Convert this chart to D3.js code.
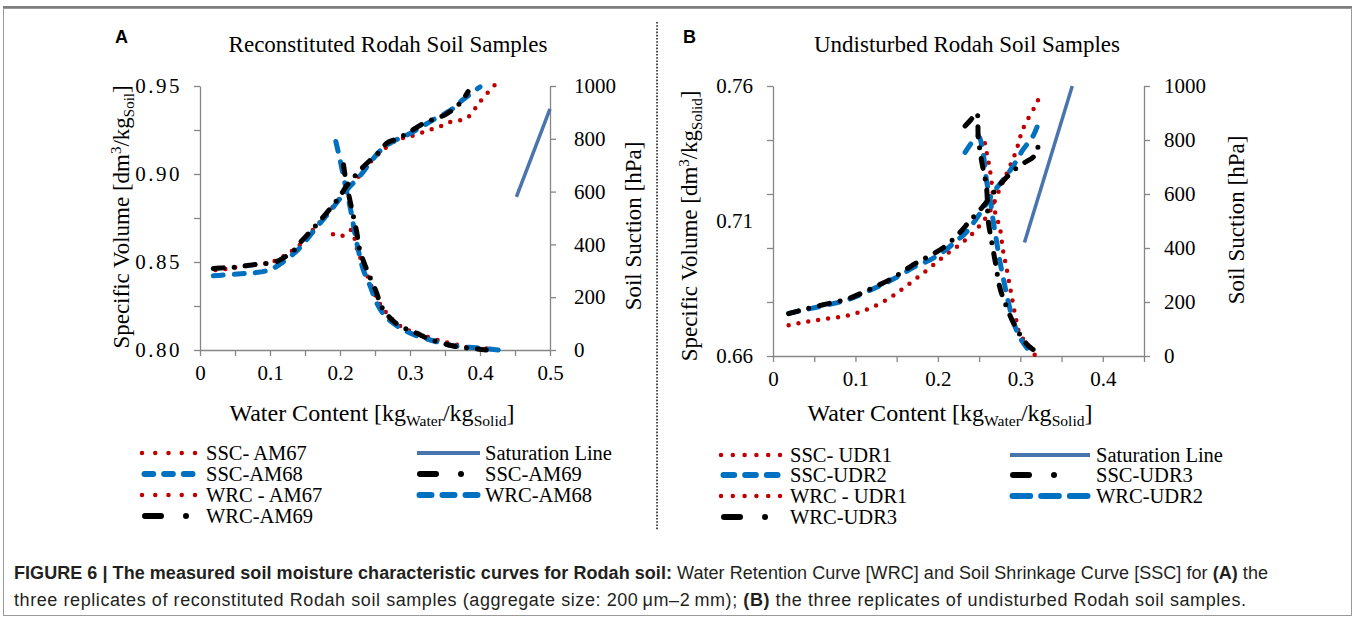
<!DOCTYPE html>
<html>
<head>
<meta charset="utf-8">
<script src="https://cdn.jsdelivr.net/npm/d3@7/dist/d3.min.js"></script>
<style>
  body { margin: 0; background: #fff; }
  svg { display: block; }
</style>
</head>
<body>
<div id="chart"></div>
<script>
// ---- Panel A: reconstituted samples [water content, specific volume] / [water content, suction]
var sscAM67 = [[0.022,0.8455],[0.035,0.846],[0.05,0.8468],[0.07,0.848],[0.09,0.849],[0.1,0.8495],[0.114,0.852],[0.126,0.855],[0.138,0.858],[0.15,0.863],[0.165,0.87],[0.181,0.877],[0.19,0.8815],[0.202,0.8874],[0.215,0.8935],[0.23,0.9],[0.245,0.9075],[0.26,0.913],[0.275,0.918],[0.29,0.9205],[0.3,0.9213],[0.314,0.9232],[0.328,0.925],[0.343,0.927],[0.357,0.9295],[0.381,0.9317],[0.395,0.9383],[0.404,0.943],[0.421,0.9505]];
var sscAM68 = [[0.019,0.8422],[0.03,0.8425],[0.048,0.843],[0.065,0.8435],[0.08,0.844],[0.095,0.845],[0.105,0.8465],[0.115,0.849],[0.13,0.8535],[0.14,0.857],[0.152,0.8625],[0.165,0.869],[0.18,0.876],[0.195,0.8835],[0.212,0.892],[0.228,0.8987],[0.245,0.9075],[0.259,0.9138],[0.276,0.9185],[0.295,0.922],[0.309,0.925],[0.333,0.9308],[0.357,0.936],[0.375,0.942],[0.395,0.948],[0.4,0.9495]];
var sscAM69 = [[0.019,0.8463],[0.035,0.8467],[0.052,0.8472],[0.081,0.8487],[0.105,0.8497],[0.12,0.8525],[0.135,0.857],[0.143,0.861],[0.157,0.867],[0.171,0.8732],[0.188,0.8813],[0.2,0.8875],[0.209,0.893],[0.221,0.8987],[0.233,0.904],[0.245,0.9085],[0.256,0.9125],[0.267,0.9176],[0.278,0.9195],[0.288,0.9213],[0.3,0.924],[0.316,0.928],[0.333,0.931],[0.35,0.9336],[0.364,0.9375],[0.375,0.942],[0.383,0.9468]];
var wrcAM67 = [[0.19,438],[0.202,431],[0.216,454],[0.224,385],[0.236,303],[0.25,210],[0.264,148],[0.288,87],[0.314,60],[0.343,35],[0.364,22],[0.378,12],[0.407,6],[0.419,2]];
var wrcAM68 = [[0.194,790],[0.2,721],[0.209,607],[0.216,521],[0.221,445],[0.226,381],[0.233,306],[0.243,243],[0.252,181],[0.264,130],[0.281,92],[0.304,60],[0.333,35],[0.362,16],[0.395,8],[0.426,0]];
var wrcAM69 = [[0.205,702],[0.209,633],[0.216,545],[0.224,445],[0.228,381],[0.238,306],[0.252,219],[0.259,166],[0.28,101],[0.309,64],[0.328,41],[0.362,15],[0.395,4],[0.409,0]];
var satLineA = [[0.452,0.887],[0.5,0.937]];

// ---- Panel B: undisturbed samples
var sscUDR1 = [[0.019,0.6714],[0.04,0.6726],[0.065,0.6738],[0.091,0.675],[0.116,0.6775],[0.14,0.6812],[0.162,0.686],[0.186,0.6916],[0.208,0.6971],[0.227,0.7014],[0.239,0.7045],[0.25,0.708],[0.263,0.7135],[0.275,0.7218],[0.285,0.7286],[0.295,0.736],[0.303,0.744],[0.317,0.752],[0.324,0.7563]];
var sscUDR2 = [[0.019,0.6758],[0.037,0.677],[0.061,0.6786],[0.089,0.6807],[0.118,0.6844],[0.146,0.6885],[0.174,0.6934],[0.19,0.6955],[0.206,0.6985],[0.222,0.7025],[0.235,0.706],[0.247,0.711],[0.259,0.7165],[0.267,0.7205],[0.279,0.7252],[0.291,0.7302],[0.303,0.7363],[0.316,0.7418],[0.324,0.748]];
var sscUDR3 = [[0.019,0.6757],[0.037,0.6772],[0.061,0.679],[0.089,0.681],[0.118,0.6848],[0.146,0.689],[0.168,0.6934],[0.186,0.6965],[0.206,0.7],[0.225,0.7052],[0.239,0.7101],[0.255,0.7155],[0.27,0.7215],[0.283,0.7261],[0.299,0.7305],[0.317,0.7341],[0.323,0.7396]];
var wrcUDR1 = [[0.257,788],[0.26,740],[0.263,692],[0.266,620],[0.268,551],[0.271,515],[0.275,477],[0.279,391],[0.283,330],[0.289,230],[0.295,133],[0.299,84],[0.307,47],[0.313,16],[0.318,3]];
var wrcUDR2 = [[0.233,754],[0.241,790],[0.249,815],[0.255,748],[0.259,649],[0.263,588],[0.267,502],[0.271,428],[0.275,354],[0.279,293],[0.285,206],[0.291,133],[0.299,71],[0.307,34],[0.315,0]];
var wrcUDR3 = [[0.233,852],[0.24,875],[0.247,901],[0.249,809],[0.253,723],[0.259,624],[0.261,502],[0.265,428],[0.27,341],[0.275,255],[0.281,200],[0.293,114],[0.307,47],[0.315,25],[0.322,10]];
var satLineB = [[0.305,0.702],[0.363,0.76]];

// ---- tick values
var suctionTicks = [0, 200, 400, 600, 800, 1000];
var xTicksA = d3.range(11).map(function (i) { return i * 0.05; });
var xLabelsA = [0, 0.1, 0.2, 0.3, 0.4, 0.5];
var xTicksB = d3.range(10).map(function (i) { return i * 0.05; });
var xLabelsB = [0, 0.1, 0.2, 0.3, 0.4];
var vTicksA = d3.range(7).map(function (i) { return 0.80 + i * 0.025; });
var vLabelsA = [0.80, 0.85, 0.90, 0.95];
var vTicksB = d3.range(6).map(function (i) { return 0.66 + i * 0.02; });
var vLabelsB = [0.66, 0.71, 0.76];

var serif = '"Liberation Serif", "Times New Roman", serif';
var sans = '"Liberation Sans", Arial, sans-serif';

// Line styles
var styles = {
  red:   { stroke: '#c00000', width: 4.5, dash: '0 10', cap: 'round' },
  blue:  { stroke: '#0070c0', width: 5, dash: '10 11', cap: 'round' },
  black: { stroke: '#000', width: 5, dash: '10 11 0 11', cap: 'round' },
  sat:   { stroke: '#4a74ad', width: 3.5, dash: null, cap: 'butt' }
};

var svg = d3.select('#chart')
            .append('svg')
            .attr('width', 1355)
            .attr('height', 625);

// Figure frame
svg.append('rect')
   .attr('x', 3.5).attr('y', 8.5)
   .attr('width', 1348).attr('height', 607)
   .attr('fill', 'none')
   .attr('stroke', '#9a9a9a');
svg.append('line')
   .attr('x1', 3).attr('x2', 1352).attr('y1', 7).attr('y2', 7)
   .attr('stroke', '#7f7f7f').attr('stroke-width', 2);

// Dotted separator between panels
svg.append('line')
   .attr('x1', 657).attr('x2', 657).attr('y1', 22).attr('y2', 530)
   .attr('stroke', '#222').attr('stroke-width', 1.6)
   .attr('stroke-dasharray', '1.6 1.6');

function applyStyle(sel, s) {
  sel.attr('fill', 'none')
     .attr('stroke', s.stroke)
     .attr('stroke-width', s.width)
     .attr('stroke-linecap', s.cap)
     .attr('stroke-linejoin', 'round');
  if (s.dash) sel.attr('stroke-dasharray', s.dash);
}

// Text with sub/superscript parts
function richText(sel, parts, size) {
  parts.forEach(function (p) {
    var t = sel.append('tspan').text(p.t);
    if (p.sub) t.attr('font-size', size * 0.65).attr('dy', size * 0.22);
    if (p.sup) t.attr('font-size', size * 0.65).attr('dy', -size * 0.36);
    if (p.back) t.attr('dy', p.back * size);
  });
}

function sameVal(list, d) {
  return list.some(function (v) { return Math.abs(v - d) < 1e-9; });
}

function drawPanel(p) {
  var g = svg.append('g').attr('class', 'panel');
  var yBase = p.yL.range()[0];
  var xl = p.x.range()[0], xr = p.x.range()[1];

  // Bottom axis
  g.append('g')
   .attr('transform', 'translate(0,' + yBase + ')')
   .call(d3.axisBottom(p.x)
           .tickValues(p.xTicks)
           .tickSize(6).tickSizeOuter(0).tickPadding(9)
           .tickFormat(function (d) {
             if (!sameVal(p.xLabels, d)) return '';
             return d === 0 ? '0' : d3.format('.1f')(d);
           }));

  // Left axis: tick marks, then labels
  g.append('g')
   .attr('transform', 'translate(' + xl + ',0)')
   .call(d3.axisLeft(p.yL).tickValues(p.vTicks).tickSize(6).tickSizeOuter(0).tickFormat(''));
  g.append('g')
   .attr('class', 'vlabels')
   .attr('transform', 'translate(' + xl + ',0)')
   .call(d3.axisLeft(p.yL).tickValues(p.vLabels).tickSize(0).tickPadding(p.leftPad).tickFormat(d3.format('.2f')))
   .call(function (a) { a.select('.domain').remove(); });

  // Right axis
  g.append('g')
   .attr('transform', 'translate(' + xr + ',0)')
   .call(d3.axisRight(p.yR).tickValues(suctionTicks).tickSize(6).tickSizeOuter(0)
           .tickPadding(p.rightPad).tickFormat(d3.format('d')));

  g.selectAll('.domain, .tick line')
   .attr('stroke', '#868686')
   .attr('stroke-width', 1.3);
  g.selectAll('.tick text')
   .attr('font-family', serif)
   .attr('font-size', 21)
   .attr('fill', '#000');
  g.selectAll('.vlabels .tick text').attr('letter-spacing', p.leftSpacing);

  // Series
  p.series.forEach(function (s) {
    var y = s.axis === 'right' ? p.yR : p.yL;
    var line = d3.line()
                 .x(function (d) { return p.x(d[0]); })
                 .y(function (d) { return y(d[1]); })
                 .curve(d3.curveCatmullRom.alpha(0.5));
    g.append('path')
     .datum(s.data)
     .attr('d', line)
     .call(applyStyle, styles[s.style]);
  });

  // Panel letter and title
  g.append('text')
   .attr('x', p.letterX).attr('y', 43)
   .attr('font-family', sans).attr('font-weight', 'bold').attr('font-size', 18)
   .text(p.letter);
  g.append('text')
   .attr('x', p.titleX).attr('y', 52)
   .attr('text-anchor', 'middle')
   .attr('font-family', serif).attr('font-size', 23)
   .text(p.title);

  // Axis titles
  var fx = 24;
  var xt = g.append('text')
            .attr('x', p.xTitleX).attr('y', 421)
            .attr('text-anchor', 'middle')
            .attr('font-family', serif).attr('font-size', fx);
  richText(xt, [{ t: 'Water Content [kg' }, { t: 'Water', sub: true }, { t: '/kg', back: -0.22 }, { t: 'Solid', sub: true }, { t: ']', back: -0.22 }], fx);

  var fs = 23;
  var lt = g.append('text')
            .attr('transform', 'translate(' + p.leftTitleX + ',' + p.leftTitleY + ') rotate(-90)')
            .attr('text-anchor', 'middle')
            .attr('font-family', serif).attr('font-size', fs);
  richText(lt, [{ t: 'Specific Volume [dm' }, { t: '3', sup: true }, { t: '/kg', back: 0.36 }, { t: p.volUnit, sub: true }, { t: ']', back: -0.22 }], fs);

  g.append('text')
   .attr('transform', 'translate(' + p.rightTitleX + ',' + p.rightTitleY + ') rotate(-90)')
   .attr('text-anchor', 'middle')
   .attr('font-family', serif).attr('font-size', fs)
   .text('Soil Suction [hPa]');

  // Legend
  p.legend.forEach(function (e) {
    var sym = p.legendSym[e.col];
    var y = p.legendRows[e.row];
    var s = styles[e.style];
    var a = sym[0], b = sym[1];
    if (e.style === 'red') {
      g.append('line')
       .attr('x1', a).attr('x2', b + 0.1).attr('y1', y).attr('y2', y)
       .call(applyStyle, s)
       .attr('stroke-dasharray', '0 ' + ((b - a) / (p.legendDots - 1)));
    } else if (e.style === 'blue') {
      var len = b - a - 5;
      var dash = (len - 22) / 3;
      g.append('line')
       .attr('x1', a + 2.5).attr('x2', b - 2.5).attr('y1', y).attr('y2', y)
       .call(applyStyle, s)
       .attr('stroke-width', 6)
       .attr('stroke-dasharray', dash + ' 11');
    } else if (e.style === 'black') {
      g.append('line')
       .attr('x1', a + 3).attr('x2', a + 19).attr('y1', y).attr('y2', y)
       .call(applyStyle, s)
       .attr('stroke-width', 6)
       .attr('stroke-dasharray', null);
      g.append('circle')
       .attr('cx', a + 44).attr('cy', y).attr('r', 3)
       .attr('fill', '#000');
    } else {
      g.append('line')
       .attr('x1', a).attr('x2', b).attr('y1', y).attr('y2', y)
       .call(applyStyle, s)
       .attr('stroke-width', 4);
    }
    g.append('text')
     .attr('x', p.legendText[e.col]).attr('y', y).attr('dy', '0.34em')
     .attr('font-family', serif).attr('font-size', 20.5)
     .text(e.label);
  });
}

drawPanel({
  letter: 'A', letterX: 115,
  title: 'Reconstituted Rodah Soil Samples', titleX: 388,
  x: d3.scaleLinear([0, 0.5], [200, 550]),
  yL: d3.scaleLinear([0.80, 0.95], [350, 86]),
  yR: d3.scaleLinear([0, 1000], [350, 86]),
  xTicks: xTicksA, xLabels: xLabelsA,
  vTicks: vTicksA, vLabels: vLabelsA,
  leftPad: 18, rightPad: 18, leftSpacing: 2.5,
  xTitleX: 372,
  leftTitleX: 129, leftTitleY: 217, volUnit: 'Soil',
  rightTitleX: 641, rightTitleY: 226,
  series: [
    { data: sscAM67, style: 'red' },
    { data: wrcAM67, style: 'red', axis: 'right' },
    { data: sscAM68, style: 'blue' },
    { data: wrcAM68, style: 'blue', axis: 'right' },
    { data: sscAM69, style: 'black' },
    { data: wrcAM69, style: 'black', axis: 'right' },
    { data: satLineA, style: 'sat' }
  ],
  legendSym: [[142, 195], [417, 480]],
  legendText: [206, 485],
  legendRows: [453, 474, 495, 516],
  legendDots: 5,
  legend: [
    { label: 'SSC- AM67', style: 'red', col: 0, row: 0 },
    { label: 'SSC-AM68', style: 'blue', col: 0, row: 1 },
    { label: 'WRC - AM67', style: 'red', col: 0, row: 2 },
    { label: 'WRC-AM69', style: 'black', col: 0, row: 3 },
    { label: 'Saturation Line', style: 'sat', col: 1, row: 0 },
    { label: 'SSC-AM69', style: 'black', col: 1, row: 1 },
    { label: 'WRC-AM68', style: 'blue', col: 1, row: 2 }
  ]
});

drawPanel({
  letter: 'B', letterX: 683,
  title: 'Undisturbed Rodah Soil Samples', titleX: 967,
  x: d3.scaleLinear([0, 0.45], [773, 1144]),
  yL: d3.scaleLinear([0.66, 0.76], [356, 86]),
  yR: d3.scaleLinear([0, 1000], [356, 86]),
  xTicks: xTicksB, xLabels: xLabelsB,
  vTicks: vTicksB, vLabels: vLabelsB,
  leftPad: 20, rightPad: 14, leftSpacing: 0,
  xTitleX: 950,
  leftTitleX: 697, leftTitleY: 226, volUnit: 'Solid',
  rightTitleX: 1244, rightTitleY: 220,
  series: [
    { data: sscUDR1, style: 'red' },
    { data: wrcUDR1, style: 'red', axis: 'right' },
    { data: sscUDR2, style: 'blue' },
    { data: wrcUDR2, style: 'blue', axis: 'right' },
    { data: sscUDR3, style: 'black' },
    { data: wrcUDR3, style: 'black', axis: 'right' },
    { data: satLineB, style: 'sat' }
  ],
  legendSym: [[721, 780], [1010, 1090]],
  legendText: [790, 1096],
  legendRows: [455, 475, 496, 517],
  legendDots: 6,
  legend: [
    { label: 'SSC- UDR1', style: 'red', col: 0, row: 0 },
    { label: 'SSC-UDR2', style: 'blue', col: 0, row: 1 },
    { label: 'WRC - UDR1', style: 'red', col: 0, row: 2 },
    { label: 'WRC-UDR3', style: 'black', col: 0, row: 3 },
    { label: 'Saturation Line', style: 'sat', col: 1, row: 0 },
    { label: 'SSC-UDR3', style: 'black', col: 1, row: 1 },
    { label: 'WRC-UDR2', style: 'blue', col: 1, row: 2 }
  ]
});

// Caption
var cap1 = svg.append('text')
              .attr('x', 14).attr('y', 579)
              .attr('textLength', 1254).attr('lengthAdjust', 'spacing')
              .attr('font-family', sans).attr('font-size', 18).attr('fill', '#231f20');
cap1.append('tspan').attr('font-weight', 'bold').text('FIGURE 6 | The measured soil moisture characteristic curves for Rodah soil:');
cap1.append('tspan').text(' Water Retention Curve [WRC] and Soil Shrinkage Curve [SSC] for ');
cap1.append('tspan').attr('font-weight', 'bold').text('(A)');
cap1.append('tspan').text(' the');

var cap2 = svg.append('text')
              .attr('x', 14).attr('y', 606)
              .attr('textLength', 1232).attr('lengthAdjust', 'spacing')
              .attr('font-family', sans).attr('font-size', 18).attr('fill', '#231f20');
cap2.append('tspan').text('three replicates of reconstituted Rodah soil samples (aggregate size: 200\u2009\u03bcm\u20132\u2009mm); ');
cap2.append('tspan').attr('font-weight', 'bold').text('(B)');
cap2.append('tspan').text(' the three replicates of undisturbed Rodah soil samples.');
</script>
</body>
</html>
